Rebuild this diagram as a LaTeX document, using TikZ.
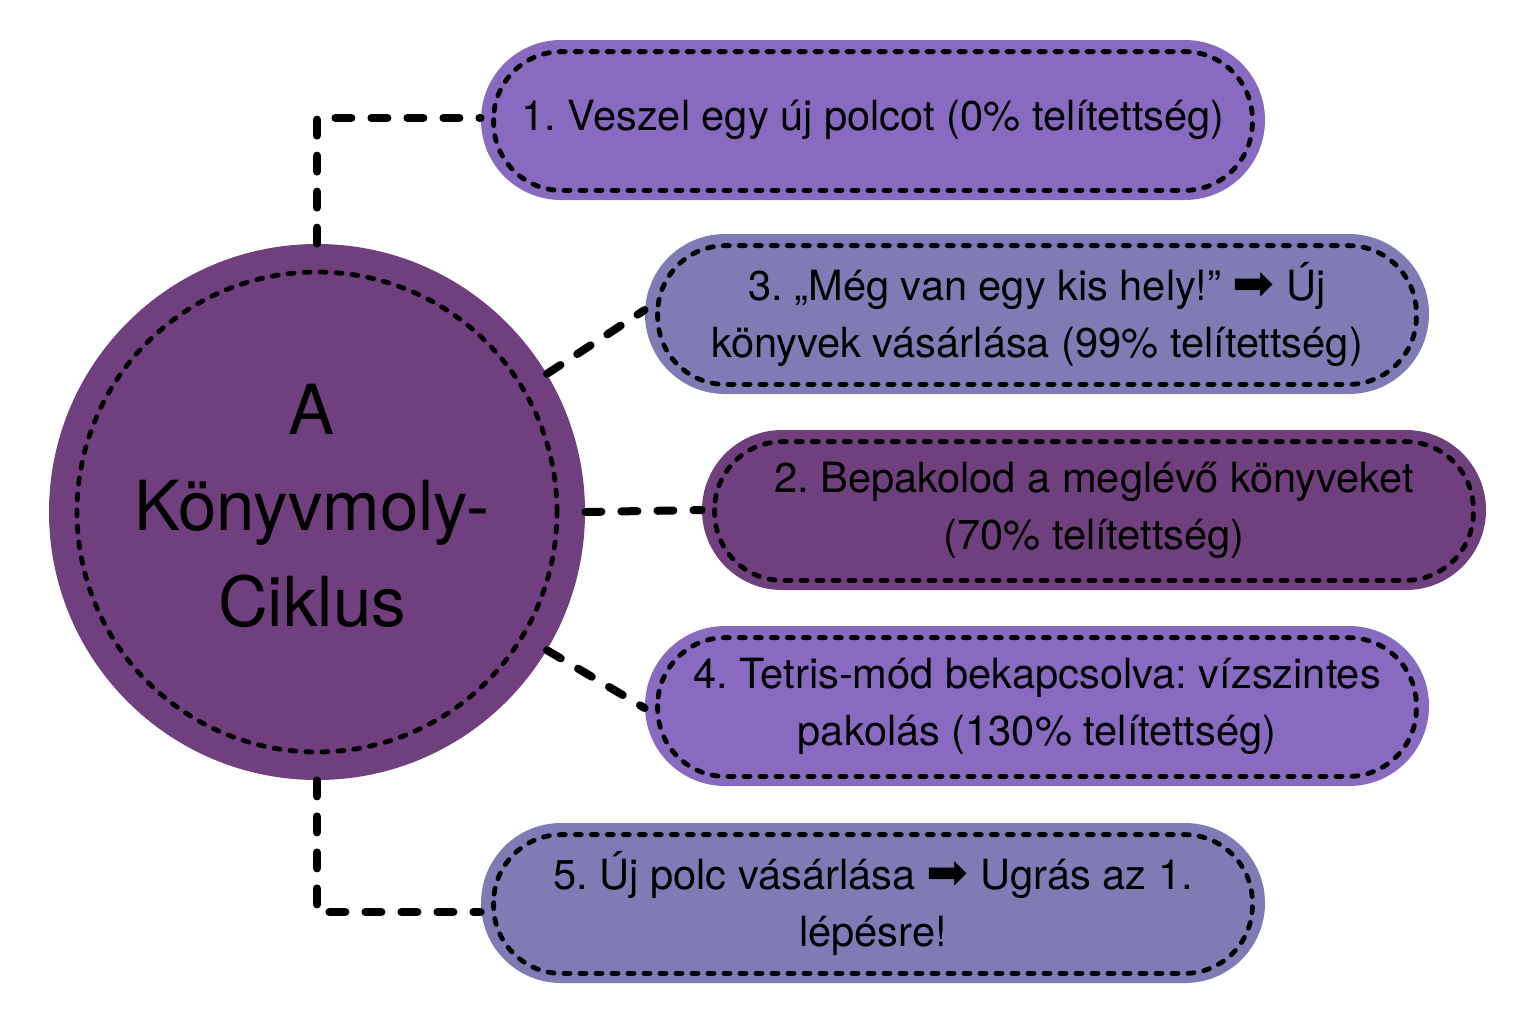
\documentclass[tikz,border=0pt]{standalone}
\usepackage{fontspec}
\setmainfont{TeX Gyre Heros}
\newfontfamily\symfont{DejaVu Sans}
\newcommand{\rarr}{{\symfont\fontsize{25}{25}\selectfont ➡}}
\definecolor{lightpurple}{HTML}{886AC0}
\definecolor{bluepurple}{HTML}{7F7BB5}
\definecolor{darkpurple}{HTML}{6F3F7E}
\begin{document}
\frenchspacing
\begin{tikzpicture}[x=0.5pt,y=-0.5pt,
  box/.style={rectangle, rounded corners=40pt, minimum width=392pt, minimum height=80pt, inner sep=0pt, align=center, font=\fontsize{20.8}{28.5}\selectfont},
  innerdash/.style={draw=black, line width=2.4pt, dash pattern=on 3pt off 5pt, line cap=round, rounded corners=34pt},
  conn/.style={draw=black, line width=4pt, dash pattern=on 8pt off 10pt, line cap=round, line join=round}]
\useasboundingbox (0,0) rectangle (1536,1024);
% circle
\node[circle, fill=darkpurple, minimum size=268pt, inner sep=0pt] (c) at (317,512) {};
\draw[draw=black, line width=2.4pt, dash pattern=on 3pt off 5pt, line cap=round] (c.center) circle[radius=120pt];
\node[align=center, font=\fontsize{34.5}{48}\selectfont] (ct) at (312,506) {A\\Könyvmoly-\\Ciklus};
% boxes
\node[box, fill=lightpurple] (b1) at (873,120) {\raisebox{2pt}{1. Veszel egy új polcot (0\% telítettség)}};
\node[box, fill=bluepurple] (b3) at (1037,314) {3. „Még van egy kis hely!” \rarr\ Új\\könyvek vásárlása (99\% telítettség)};
\node[box, fill=darkpurple] (b2) at (1094,510) {2. Bepakolod a meglévő könyveket\\(70\% telítettség)};
\node[box, fill=lightpurple] (b4) at (1037,706) {4. Tetris-mód bekapcsolva: vízszintes\\pakolás (130\% telítettség)};
\node[box, fill=bluepurple] (b5) at (873,903) {5. Új polc vásárlása \rarr\ Ugrás az 1.\\lépésre!};
\foreach \b in {b1,b2,b3,b4,b5}{
  \draw[innerdash] ([xshift=6.5pt,yshift=-6pt]\b.north west) rectangle ([xshift=-6.5pt,yshift=5pt]\b.south east);
}
% connectors
\coordinate (k1) at (317,118);
\coordinate (k5) at (317,912);
\draw[conn] (c.north) -- (k1) -- (b1.west |- k1);
\draw[conn] (c.31) -- ([yshift=2pt]b3.west);
\draw[conn] (c.east) -- (b2.west);
\draw[conn] (c.-31) -- ([yshift=-1pt]b4.west);
\draw[conn] (c.south) -- (k5) -- (b5.west |- k5);
\end{tikzpicture}
\end{document}
